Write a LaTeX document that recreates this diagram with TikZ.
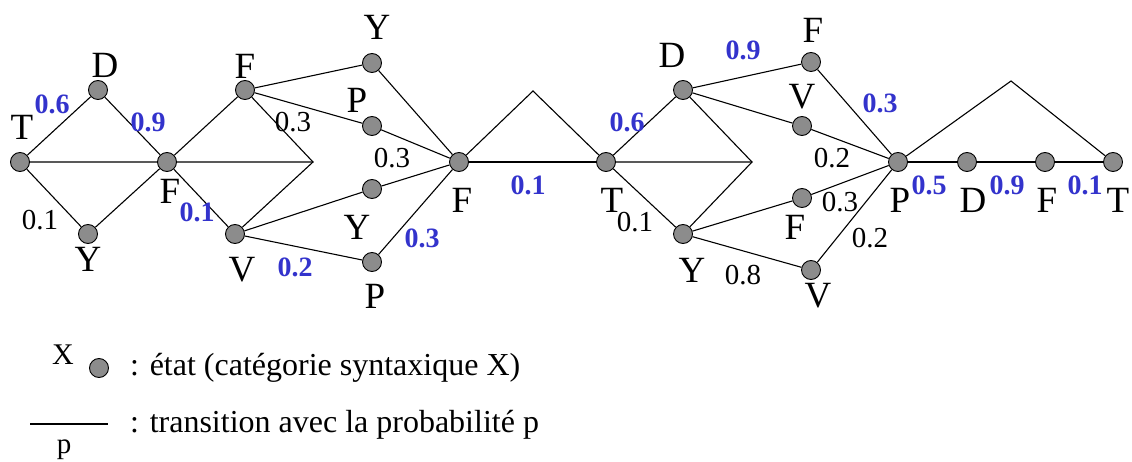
\documentclass[tikz,border=0pt]{standalone}
\usepackage{fontspec}
\setmainfont{Liberation Serif}
\definecolor{stgray}{RGB}{140,140,140}
\definecolor{pblue}{RGB}{51,51,204}
\begin{document}
\begin{tikzpicture}[x=1pt,y=-1pt,
  st/.style={circle,draw=black,fill=stgray,line width=0.9pt,minimum size=19pt,inner sep=0pt},
  lbl/.style={inner sep=0pt,font=\fontsize{37}{37}\selectfont},
  pb/.style={inner sep=0pt,font=\fontsize{29}{29}\selectfont},
  pbb/.style={inner sep=0pt,text=pblue,font=\fontsize{28}{28}\selectfont\bfseries},
  leg/.style={inner sep=0pt,font=\fontsize{32}{32}\selectfont},
  ed/.style={line width=1.1pt,line join=miter}]
\useasboundingbox (0,0) rectangle (1132,462);
% states
\node[st] (T1) at (20,162) {};
\node[st] (D1) at (98,90) {};
\node[st] (F1) at (167,162) {};
\node[st] (Y1) at (88,234) {};
\node[st] (F2) at (245,90) {};
\node[st] (V2) at (235,234) {};
\coordinate (A1) at (313,162);
\node[st] (Y3) at (372,63) {};
\node[st] (P3) at (372,126) {};
\node[st] (Y3b) at (372,189) {};
\node[st] (P3b) at (372,262) {};
\node[st] (F4) at (459,162) {};
\coordinate (A2) at (533,91);
\node[st] (T5) at (606,162) {};
\node[st] (D6) at (683,90) {};
\node[st] (Y6) at (683,234) {};
\coordinate (A3) at (752,162);
\node[st] (F7) at (811,62) {};
\node[st] (V7) at (802,126) {};
\node[st] (F7b) at (802,198) {};
\node[st] (V7b) at (811,270) {};
\node[st] (P8) at (898,162) {};
\coordinate (A4) at (1011,81);
\node[st] (D9) at (967,162) {};
\node[st] (F10) at (1045,162) {};
\node[st] (T11) at (1113,162) {};
% transitions
\draw[ed] (T1)--(D1) (T1)--(F1) (T1)--(Y1) (D1)--(F1) (Y1)--(F1);
\draw[ed] (F1)--(F2) (F1)--(V2) (F1)--(A1);
\draw[ed] (F2)--(A1)--(V2);
\draw[ed] (F2)--(Y3) (F2)--(P3) (V2)--(Y3b) (V2)--(P3b);
\draw[ed] (Y3)--(F4) (P3)--(F4) (Y3b)--(F4) (P3b)--(F4);
\draw[ed] (F4)--(A2)--(T5);
\draw[ed] (F4)--(T5);
\draw[ed] (T5)--(D6) (T5)--(A3) (T5)--(Y6);
\draw[ed] (D6)--(A3)--(Y6);
\draw[ed] (D6)--(F7) (D6)--(V7) (Y6)--(F7b) (Y6)--(V7b);
\draw[ed] (F7)--(P8) (V7)--(P8) (F7b)--(P8) (V7b)--(P8);
\draw[ed] (P8)--(D9) (D9)--(F10) (F10)--(T11);
\draw[ed] (P8)--(A4)--(T11);
% category labels
\node[lbl] (lT1) at (22,127) {T};
\node[lbl] (lD1) at (105,65) {D};
\node[lbl] (lY1) at (88,259) {Y};
\node[lbl] (lF1) at (170,191) {F};
\node[lbl] (lF2) at (245,66) {F};
\node[lbl] (lV2) at (242,270) {V};
\node[lbl] (lY3) at (377,27) {Y};
\node[lbl] (lP3) at (357,100) {P};
\node[lbl] (lY3b) at (357,227) {Y};
\node[lbl] (lP3b) at (375,296) {P};
\node[lbl] (lF4) at (462,200) {F};
\node[lbl] (lT5) at (612,200) {T};
\node[lbl] (lD6) at (672,55) {D};
\node[lbl] (lY6) at (692,270) {Y};
\node[lbl] (lF7) at (813,30) {F};
\node[lbl] (lV7) at (802,97) {V};
\node[lbl] (lF7b) at (795,227) {F};
\node[lbl] (lV7b) at (818,296) {V};
\node[lbl] (lP8) at (900,200) {P};
\node[lbl] (lD9) at (973,200) {D};
\node[lbl] (lF10) at (1047,200) {F};
\node[lbl] (lT11) at (1118,200) {T};
% black probabilities
\node[pb] (p1) at (40,220) {0.1};
\node[pb] (p2) at (293,122) {0.3};
\node[pb] (p3) at (392,158) {0.3};
\node[pb] (p4) at (635,222) {0.1};
\node[pb] (p5) at (743,275) {0.8};
\node[pb] (p6) at (832,158) {0.2};
\node[pb] (p7) at (840,202) {0.3};
\node[pb] (p8) at (870,238) {0.2};
% blue probabilities
\node[pbb] (b1) at (52,104) {0.6};
\node[pbb] (b2) at (148,122) {0.9};
\node[pbb] (b3) at (197,212) {0.1};
\node[pbb] (b4) at (295,267) {0.2};
\node[pbb] (b5) at (422,238) {0.3};
\node[pbb] (b6) at (528,185) {0.1};
\node[pbb] (b7) at (627,122) {0.6};
\node[pbb] (b8) at (743,50) {0.9};
\node[pbb] (b9) at (880,103) {0.3};
\node[pbb] (b10) at (929,185) {0.5};
\node[pbb] (b11) at (1007,185) {0.9};
\node[pbb] (b12) at (1085,185) {0.1};
% legend
\node[st] (LX) at (99,368) {};
\node[inner sep=0pt,font=\fontsize{30}{30}\selectfont] (LXl) at (63,355) {X};
\node[leg,anchor=west] (Lt1) at (130,368) {: état (catégorie syntaxique X)};
\coordinate (L1) at (30,424);
\coordinate (L2) at (108,424);
\draw[ed] (L1)--(L2);
\node[inner sep=0pt,font=\fontsize{29}{29}\selectfont] (Lp) at (64,450) {p};
\node[leg,anchor=west] (Lt2) at (130,425) {: transition avec la probabilité p};
\end{tikzpicture}
\end{document}
